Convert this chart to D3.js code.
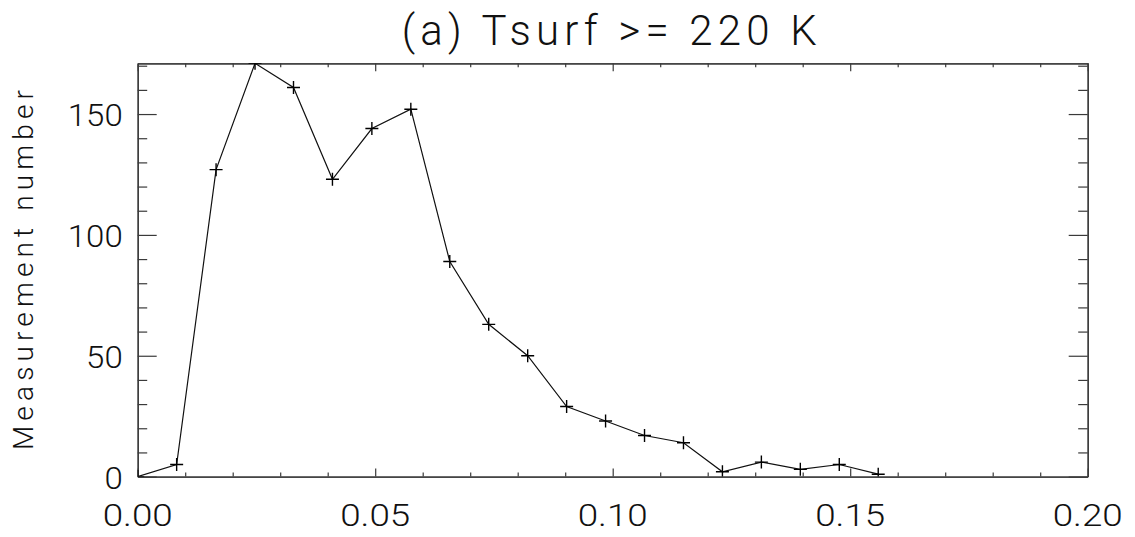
<!DOCTYPE html>
<html>
<head>
<meta charset="utf-8">
<script src="https://cdn.jsdelivr.net/npm/d3@7"></script>
<style>
  html, body { margin: 0; padding: 0; background: #fff; }
  svg text { font-family: Roboto, Inter, "DejaVu Sans", sans-serif; font-weight: 300; fill: #111; }
</style>
</head>
<body>
<svg id="chart" width="1135" height="537"></svg>
<script>
// Histogram of measurement counts per bin (line with plus markers)
const binCenters = [0, 0.0082, 0.0165, 0.0247, 0.0328, 0.0410, 0.0493, 0.0575, 0.0657, 0.0739,
                    0.0821, 0.0903, 0.0985, 0.1067, 0.1149, 0.1231, 0.1313, 0.1395, 0.1477, 0.1559];
const counts = [0, 5, 127, 171, 161, 123, 144, 152, 89, 63,
                50, 29, 23, 17, 14, 2, 6, 3, 5, 1];
const xMajorTicks = [0, 0.05, 0.10, 0.15, 0.20];
const xMinorTicks = [0.01, 0.02, 0.03, 0.04, 0.06, 0.07, 0.08, 0.09, 0.11, 0.12, 0.13, 0.14,
                     0.16, 0.17, 0.18, 0.19];
const yMajorTicks = [0, 50, 100, 150];
const yMinorTicks = [10, 20, 30, 40, 60, 70, 80, 90, 110, 120, 130, 140, 160, 170];
const xDomain = [0, 0.20];
const yDomain = [0, 171];
const titleText = "(a) Tsurf >= 220 K";
const yTitleText = "Measurement number";

const svg = d3.select("#chart");
const plotLeft = 137.7, plotRight = 1087.7, plotTop = 63.3, plotBottom = 476.6;

const x = d3.scaleLinear().domain(xDomain).range([plotLeft, plotRight]);
const y = d3.scaleLinear().domain(yDomain).range([plotBottom, plotTop]);

const axisColor = "#3a3a3a";

// clip region for the data
svg.append("defs").append("clipPath").attr("id", "plotClip")
  .append("rect").attr("x", plotLeft).attr("y", plotTop)
  .attr("width", plotRight - plotLeft).attr("height", plotBottom - plotTop);

// Axes: bottom/top share ticks, left/right share ticks, all drawn inward
function xAxisGen(gen, ticks, len) {
  return gen(x).tickValues(ticks).tickSize(len).tickFormat("").tickSizeOuter(0);
}
function yAxisGen(gen, ticks, len) {
  return gen(y).tickValues(ticks).tickSize(len).tickFormat("").tickSizeOuter(0);
}

const axes = svg.append("g").attr("class", "axes");
// bottom
axes.append("g").attr("transform", `translate(0,${plotBottom})`).call(xAxisGen(d3.axisTop, xMajorTicks, 8));
axes.append("g").attr("transform", `translate(0,${plotBottom})`).call(xAxisGen(d3.axisTop, xMinorTicks, 4));
// top
axes.append("g").attr("transform", `translate(0,${plotTop})`).call(xAxisGen(d3.axisBottom, xMajorTicks, 8));
axes.append("g").attr("transform", `translate(0,${plotTop})`).call(xAxisGen(d3.axisBottom, xMinorTicks, 4));
// left
axes.append("g").attr("transform", `translate(${plotLeft},0)`).call(yAxisGen(d3.axisRight, yMajorTicks, 19));
axes.append("g").attr("transform", `translate(${plotLeft},0)`).call(yAxisGen(d3.axisRight, yMinorTicks, 9.5));
// right
axes.append("g").attr("transform", `translate(${plotRight},0)`).call(yAxisGen(d3.axisLeft, yMajorTicks, 19));
axes.append("g").attr("transform", `translate(${plotRight},0)`).call(yAxisGen(d3.axisLeft, yMinorTicks, 9.5));

axes.selectAll(".domain").attr("stroke", axisColor).attr("stroke-width", 1.3);
axes.selectAll(".tick line").attr("stroke", axisColor).attr("stroke-width", 1.2);
axes.selectAll(".tick text").remove();

// Tick labels (wide, evenly spaced digits)
const digitWidth = 18.3;
svg.append("g").selectAll("text").data(xMajorTicks).join("text")
  .attr("x", d => x(d)).attr("y", 526)
  .attr("text-anchor", "middle")
  .attr("font-size", 32)
  .attr("textLength", 70).attr("lengthAdjust", "spacingAndGlyphs")
  .text(d => d3.format(".2f")(d));

svg.append("g").selectAll("text").data(yMajorTicks).join("text")
  .attr("x", plotLeft - 15).attr("y", d => y(d) + 12)
  .attr("text-anchor", "end")
  .attr("font-size", 32)
  .attr("textLength", d => String(d).length * digitWidth).attr("lengthAdjust", "spacingAndGlyphs")
  .text(d => d);

// Title
svg.append("text")
  .attr("x", 401.7).attr("y", 45)
  .attr("font-size", 42)
  .attr("textLength", 415).attr("lengthAdjust", "spacing")
  .text(titleText);

// Y axis title
svg.append("text")
  .attr("transform", "translate(33,270) rotate(-90)")
  .attr("text-anchor", "middle")
  .attr("font-size", 28)
  .attr("textLength", 360).attr("lengthAdjust", "spacing")
  .text(yTitleText);

// Data line
const plot = svg.append("g").attr("clip-path", "url(#plotClip)");
const pts = binCenters.map((b, i) => [b, counts[i]]);

plot.append("path")
  .datum(pts)
  .attr("fill", "none")
  .attr("stroke", "#111")
  .attr("stroke-width", 1.2)
  .attr("d", d3.line().x(d => x(d[0])).y(d => y(d[1])));

// Plus markers
const arm = 6.5;
plot.append("g").selectAll("path").data(pts).join("path")
  .attr("fill", "none")
  .attr("stroke", "#000")
  .attr("stroke-width", 1.4)
  .attr("d", d => {
    const cx = x(d[0]), cy = y(d[1]);
    return `M${cx - arm},${cy}H${cx + arm}M${cx},${cy - arm}V${cy + arm}`;
  });
</script>
</body>
</html>
